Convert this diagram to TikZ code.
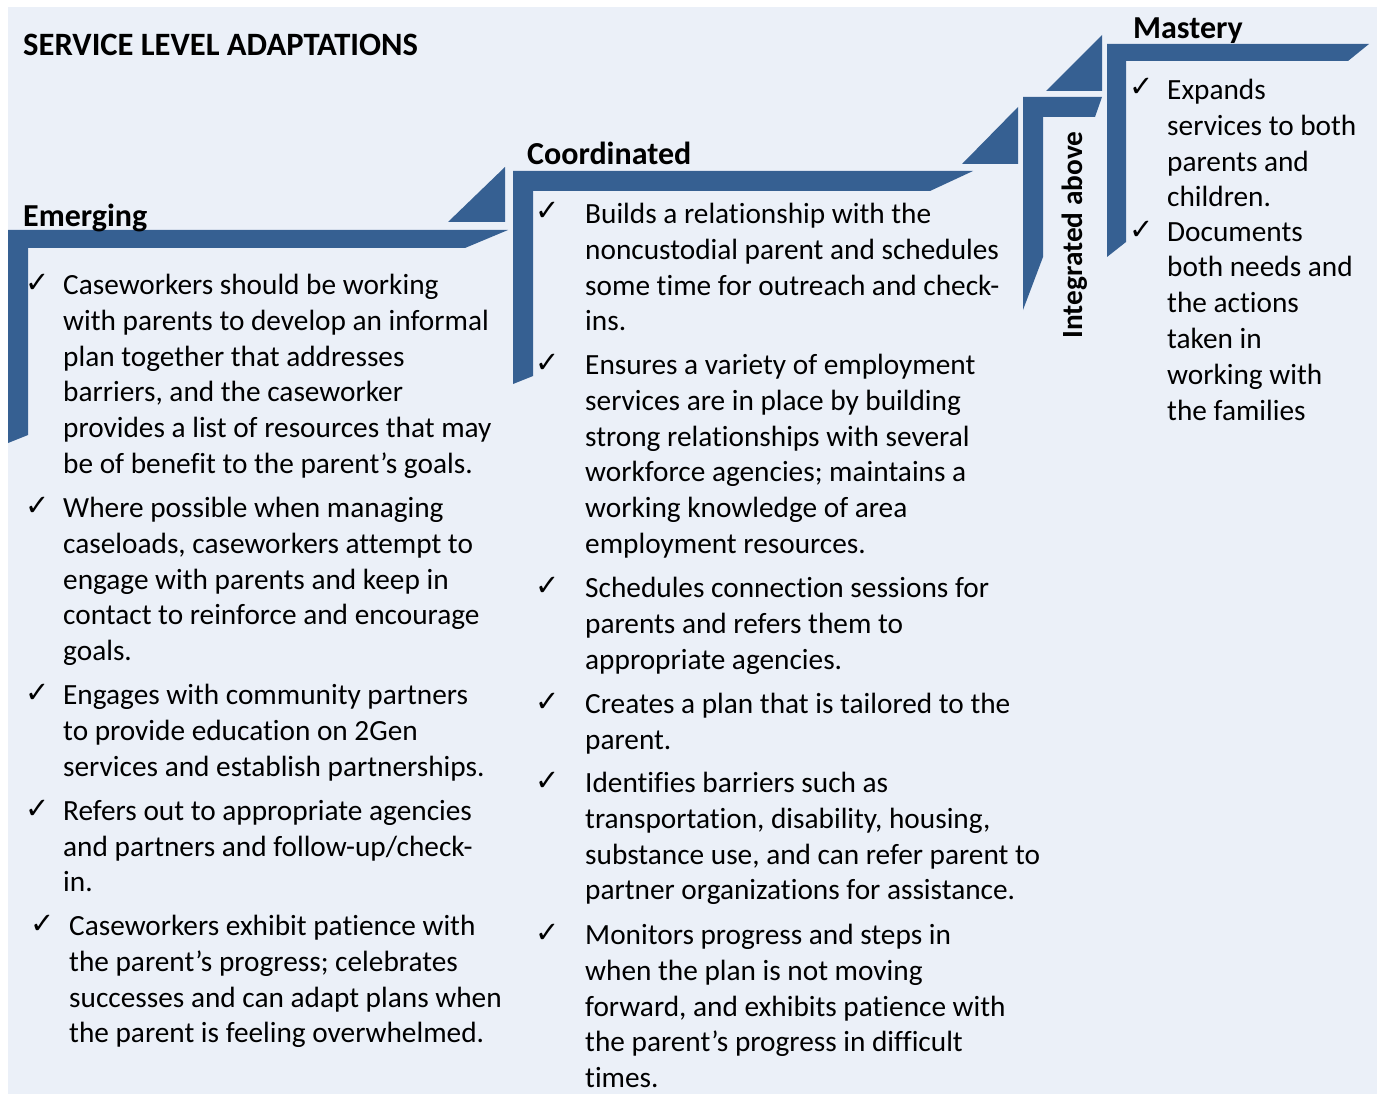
\documentclass[tikz,border=0pt]{standalone}
\usepackage{fontspec}
\setmainfont[Ligatures=NoCommon]{Carlito}
\newfontfamily\checkfont{DejaVu Sans}
\usepackage{tikz}
\usetikzlibrary{positioning}
\definecolor{stepblue}{RGB}{54,96,146}
\definecolor{panel}{RGB}{235,240,248}
\newcommand\stepbody{\fontsize{29.3}{35.8}\selectfont}
\newcommand\stephead{\fontsize{32}{38}\selectfont\bfseries}
\tikzset{
  stepbar/.style = {fill=stepblue},
  steptri/.style = {fill=stepblue},
  heading/.style = {anchor=base west, inner sep=0pt, font=\stephead},
  tick/.style = {anchor=base, inner sep=0pt, font=\checkfont\fontsize{29}{29}\selectfont},
  entry/.style = {anchor=north west, inner sep=0pt, align=left, font=\stepbody}
}

\begin{document}
\begin{tikzpicture}[x=1pt, y=-1pt]
    \useasboundingbox (0,0) rectangle (1379,1094);
    \fill[panel] (8,7) rectangle (1377,1094);

    % steps
    \fill[stepbar] (8,230) -- (508,230) -- (465,248) -- (28,248) -- (28,435) -- (8,443) -- cycle;
    \fill[steptri] (505,167) -- (505,222) -- (448,222) -- cycle;
    \fill[stepbar] (513,171) -- (973,171) -- (930,191) -- (533,191) -- (533,376) -- (513,384) -- cycle;
    \fill[steptri] (1018,107) -- (1018,164) -- (962,164) -- cycle;
    \fill[stepbar] (1023,97) -- (1102,97) -- (1095,117) -- (1043,117) -- (1043,257) -- (1023,310) -- cycle;
    \fill[steptri] (1102,35) -- (1102,91) -- (1046,91) -- cycle;
    \fill[stepbar] (1107,44) -- (1369,44) -- (1348,61) -- (1126,61) -- (1126,242) -- (1107,257) -- cycle;

    % headings
    \node[heading, font=\fontsize{32.6}{38}\selectfont\bfseries] (title) at (23,56) {SERVICE LEVEL ADAPTATIONS};
    \node[heading] (emerging) at (23,227) {Emerging};
    \node[heading] (coordinated) at (527,165) {Coordinated};
    \node[heading] (mastery) at (1133,39) {Mastery};
    \node[inner sep=0pt, font=\stepbody\bfseries, rotate=90] (integrated) at (1075,235) {Integrated above};

    % emerging
    \node[tick] (te1) at (38,292) {✓};
    \node[entry] (e1) at (63,274) {Caseworkers should be working\\with parents to develop an informal\\plan together that addresses\\barriers, and the caseworker\\provides a list of resources that may\\be of benefit to the parent’s goals.};
    \node[tick] (te2) at (38,515) {✓};
    \node[entry] (e2) at (63,497) {Where possible when managing\\caseloads, caseworkers attempt to\\engage with parents and keep in\\contact to reinforce and encourage\\goals.};
    \node[tick] (te3) at (38,702) {✓};
    \node[entry] (e3) at (63,684) {Engages with community partners\\to provide education on 2Gen\\services and establish partnerships.};
    \node[tick] (te4) at (38,818) {✓};
    \node[entry] (e4) at (63,800) {Refers out to appropriate agencies\\and partners and follow-up/check-\\in.};
    \node[tick] (te5) at (43,933) {✓};
    \node[entry] (e5) at (69,915) {Caseworkers exhibit patience with\\the parent’s progress; celebrates\\successes and can adapt plans when\\the parent is feeling overwhelmed.};

    % coordinated
    \node[tick] (tc1) at (548,221) {✓};
    \node[entry] (c1) at (585,203) {Builds a relationship with the\\noncustodial parent and schedules\\some time for outreach and check-\\ins.};
    \node[tick] (tc2) at (548,372) {✓};
    \node[entry] (c2) at (585,354) {Ensures a variety of employment\\services are in place by building\\strong relationships with several\\workforce agencies; maintains a\\working knowledge of area\\employment resources.};
    \node[tick] (tc3) at (548,595) {✓};
    \node[entry] (c3) at (585,577) {Schedules connection sessions for\\parents and refers them to\\appropriate agencies.};
    \node[tick] (tc4) at (548,711) {✓};
    \node[entry] (c4) at (585,693) {Creates a plan that is tailored to the\\parent.};
    \node[tick] (tc5) at (548,790) {✓};
    \node[entry] (c5) at (585,772) {Identifies barriers such as\\transportation, disability, housing,\\substance use, and can refer parent to\\partner organizations for assistance.};
    \node[tick] (tc6) at (548,942) {✓};
    \node[entry] (c6) at (585,924) {Monitors progress and steps in\\when the plan is not moving\\forward, and exhibits patience with\\the parent’s progress in difficult\\times.};

    % mastery
    \node[tick] (tm1) at (1142,97) {✓};
    \node[entry] (m1) at (1167,79) {Expands\\services to both\\parents and\\children.};
    \node[tick] (tm2) at (1142,240) {✓};
    \node[entry] (m2) at (1167,222) {Documents\\both needs and\\the actions\\taken in\\working with\\the families};
\end{tikzpicture}
\end{document}
